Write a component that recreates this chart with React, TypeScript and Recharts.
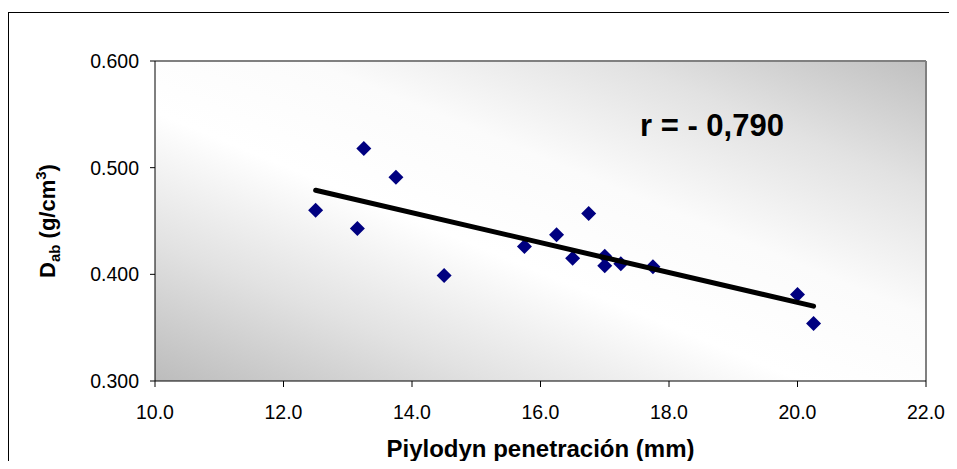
import React from "react";
import {
  ScatterChart,
  Scatter,
  XAxis,
  YAxis,
  CartesianGrid,
  ReferenceLine,
  Label,
} from "recharts";

// Pilodyn penetration (mm) vs basic density D_ab (g/cm3)
const penetration = [12.5, 13.15, 13.25, 13.75, 14.5, 15.75, 16.25, 16.5, 16.75, 17.0, 17.0, 17.25, 17.75, 20.0, 20.25];
const density = [0.46, 0.443, 0.518, 0.491, 0.399, 0.426, 0.437, 0.415, 0.457, 0.417, 0.408, 0.41, 0.407, 0.381, 0.354];

const xTicks = [10, 12, 14, 16, 18, 20, 22];
const yTicks = [0.3, 0.4, 0.5, 0.6];
const corrLabel = "r = - 0,790";

const FONT = "Arial, 'Liberation Sans', sans-serif";

const points = penetration.map((x, i) => ({ x, y: density[i] }));

// least squares trend line, drawn over the data range (like excel)
function trend() {
  const n = penetration.length;
  const mx = penetration.reduce((a, b) => a + b, 0) / n;
  const my = density.reduce((a, b) => a + b, 0) / n;
  let sxy = 0;
  let sxx = 0;
  penetration.forEach((x, i) => {
    sxy += (x - mx) * (density[i] - my);
    sxx += (x - mx) * (x - mx);
  });
  const slope = sxy / sxx;
  const x0 = Math.min(...penetration);
  const x1 = Math.max(...penetration);
  return [
    { x: x0, y: my + slope * (x0 - mx) },
    { x: x1, y: my + slope * (x1 - mx) },
  ];
}

const Diamond = (props: any) => {
  const { cx, cy } = props;
  const r = 7.5;
  return (
    <polygon
      points={`${cx},${cy - r} ${cx + r},${cy} ${cx},${cy + r} ${cx - r},${cy}`}
      fill="#000080"
    />
  );
};

const YTitle = (props: any) => {
  const vb = props.viewBox;
  const x = vb.x + 46;
  const y = vb.y + vb.height / 2;
  return (
    <text
      x={x}
      y={y}
      transform={`rotate(-90, ${x}, ${y})`}
      textAnchor="middle"
      fontFamily={FONT}
      fontWeight="bold"
      fontSize={22}
      fill="#000"
    >
      D
      <tspan fontSize={15} dy={5}>ab</tspan>
      <tspan dy={-5}> (g/cm</tspan>
      <tspan fontSize={15} dy={-9}>3</tspan>
      <tspan dy={9}>)</tspan>
    </text>
  );
};

export default function App() {
  return (
    <div
      style={{
        marginTop: 4,
        width: 948,
        height: 448,
        borderLeft: "1px solid #000",
        borderTop: "1px solid #000",
      }}
    >
      <ScatterChart
        width={948}
        height={448}
        margin={{ top: 48, right: 31, left: 0, bottom: 0 }}
      >
        <defs>
          <linearGradient id="plotBg" x1="0" y1="1" x2="1" y2="0">
            <stop offset="0%" stopColor="#bcbcbc" />
            <stop offset="22%" stopColor="#e2e2e2" />
            <stop offset="42%" stopColor="#ffffff" />
            <stop offset="60%" stopColor="#fbfbfb" />
            <stop offset="80%" stopColor="#e2e2e2" />
            <stop offset="100%" stopColor="#c0c0c0" />
          </linearGradient>
        </defs>
        <CartesianGrid fill="url(#plotBg)" horizontal={false} vertical={false} />
        <XAxis
          type="number"
          dataKey="x"
          domain={[10, 22]}
          ticks={xTicks}
          tickFormatter={(v: number) => v.toFixed(1)}
          height={80}
          tickSize={6}
          tickMargin={18}
          stroke="#000"
          tick={{ fill: "#000", fontSize: 19.5, fontFamily: FONT }}
        >
          <Label
            value="Piylodyn penetración (mm)"
            position="insideBottom"
            offset={4}
            style={{ fontFamily: FONT, fontWeight: "bold", fontSize: 24, fill: "#000" }}
          />
        </XAxis>
        <YAxis
          type="number"
          dataKey="y"
          domain={[0.3, 0.6]}
          ticks={yTicks}
          tickFormatter={(v: number) => v.toFixed(3)}
          width={146}
          tickSize={5}
          tickMargin={11}
          stroke="#000"
          tick={{ fill: "#000", fontSize: 19.5, fontFamily: FONT }}
        >
          <Label content={<YTitle />} />
        </YAxis>
        <ReferenceLine y={0.6} stroke="#808080" strokeWidth={2} />
        <ReferenceLine x={22} stroke="#808080" strokeWidth={2} />
        <Scatter data={points} shape={<Diamond />} isAnimationActive={false} />
        <Scatter
          data={trend()}
          line={{ stroke: "#000", strokeWidth: 5, strokeLinecap: "round" }}
          shape={() => <g />}
          isAnimationActive={false}
        />
        <text
          x={631}
          y={123}
          fontFamily={FONT}
          fontWeight="bold"
          fontSize={31}
          fill="#000"
        >
          {corrLabel}
        </text>
      </ScatterChart>
    </div>
  );
}
